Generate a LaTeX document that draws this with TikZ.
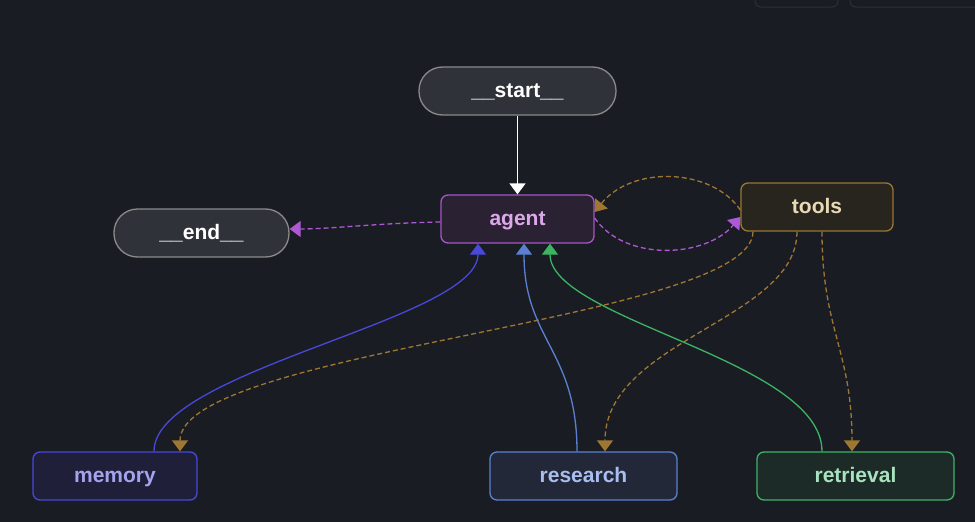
\documentclass[tikz,border=0pt]{standalone}
\usepackage{fontspec}
\setmainfont{Liberation Sans}
\usetikzlibrary{arrows.meta}
\definecolor{bg}{HTML}{1A1C23}
\definecolor{uiline}{HTML}{2C2F36}
\definecolor{pillfill}{HTML}{2F3239}
\definecolor{pillline}{HTML}{8A8A8A}
\definecolor{agentfill}{HTML}{2A2133}
\definecolor{agentline}{HTML}{A656C6}
\definecolor{agenttext}{HTML}{DCA8EA}
\definecolor{toolsfill}{HTML}{28251F}
\definecolor{toolsline}{HTML}{9A7634}
\definecolor{toolstext}{HTML}{E9D9B5}
\definecolor{memfill}{HTML}{1F1F3A}
\definecolor{memline}{HTML}{4848D9}
\definecolor{memtext}{HTML}{A4A4EE}
\definecolor{resfill}{HTML}{222838}
\definecolor{resline}{HTML}{5B80D2}
\definecolor{restext}{HTML}{A9BDEE}
\definecolor{retfill}{HTML}{1C2B27}
\definecolor{retline}{HTML}{3CB464}
\definecolor{rettext}{HTML}{A9E2BE}
\definecolor{purpleedge}{HTML}{AE58D6}
\definecolor{goldedge}{HTML}{9E7832}

\begin{document}
\begin{tikzpicture}[x=1pt,y=-1pt,
        box/.style={rectangle,rounded corners=7pt,minimum height=48pt,inner sep=0pt,line width=1.3pt,text height=15.5pt,text depth=2pt,font=\fontsize{21}{24}\selectfont\bfseries},
        pill/.style={box,rounded corners=23.5pt,draw=pillline,fill=pillfill,text=white},
        edge/.style={line width=1.3pt,-{Triangle[width=16pt,length=11pt]}},
        dashedge/.style={edge,dash pattern=on 5pt off 3pt}]
                \fill[bg] (0,0) rectangle (975,522);
                \useasboundingbox (0,0) rectangle (975,522);
                \draw[uiline,line width=1pt,rounded corners=6pt] (755,-20) rectangle (838,7);
                \draw[uiline,line width=1pt,rounded corners=6pt] (850,-20) rectangle (1000,7);
                \node[pill,minimum width=197pt] (start) at (517.5,91) {\_\_start\_\_};
                \node[pill,minimum width=175pt] (end) at (201.5,233) {\_\_end\_\_};
                \node[box,draw=agentline,fill=agentfill,text=agenttext,minimum width=153pt] (agent) at (517.5,219) {agent};
                \node[box,draw=toolsline,fill=toolsfill,text=toolstext,minimum width=152pt] (tools) at (817,207) {tools};
                \node[box,draw=memline,fill=memfill,text=memtext,minimum width=164pt] (memory) at (115,476) {memory};
                \node[box,draw=resline,fill=resfill,text=restext,minimum width=187pt] (research) at (583.5,476) {research};
                \node[box,draw=retline,fill=retfill,text=rettext,minimum width=197pt] (retrieval) at (855.5,476) {retrieval};
                \draw[edge,white] (start) -- (agent);
                \draw[dashedge,purpleedge] ([yshift=-3pt]agent.west) .. controls (380,223) and (330,229) .. ([yshift=4pt]end.east);
                \draw[dashedge,purpleedge] ([yshift=1pt]agent.east) .. controls (625,262) and (705,258) .. ([yshift=-10pt]tools.west);
                \draw[dashedge,goldedge] ([yshift=-3pt]tools.west) .. controls (712,168) and (632,165) .. ([yshift=7pt]agent.east);
                \draw[dashedge,goldedge] ([xshift=-64pt]tools.south) .. controls (753,320) and (180,350) .. ([xshift=65pt]memory.north);
                \draw[dashedge,goldedge] ([xshift=-20pt]tools.south) .. controls (797,320) and (605,340) .. ([xshift=21.5pt]research.north);
                \draw[dashedge,goldedge] ([xshift=5pt]tools.south) .. controls (822,330) and (852,350) .. ([xshift=-3.5pt]retrieval.north);
                \draw[edge,memline] ([xshift=39pt]memory.north) .. controls (154,370) and (478,320) .. ([xshift=-39.5pt]agent.south);
                \draw[edge,resline] ([xshift=-6.5pt]research.north) .. controls (577,350) and (524,340) .. ([xshift=6.5pt]agent.south);
                \draw[edge,retline] ([xshift=-33.5pt]retrieval.north) .. controls (822,360) and (550,320) .. ([xshift=32.5pt]agent.south);
        \end{tikzpicture}
\end{document}
